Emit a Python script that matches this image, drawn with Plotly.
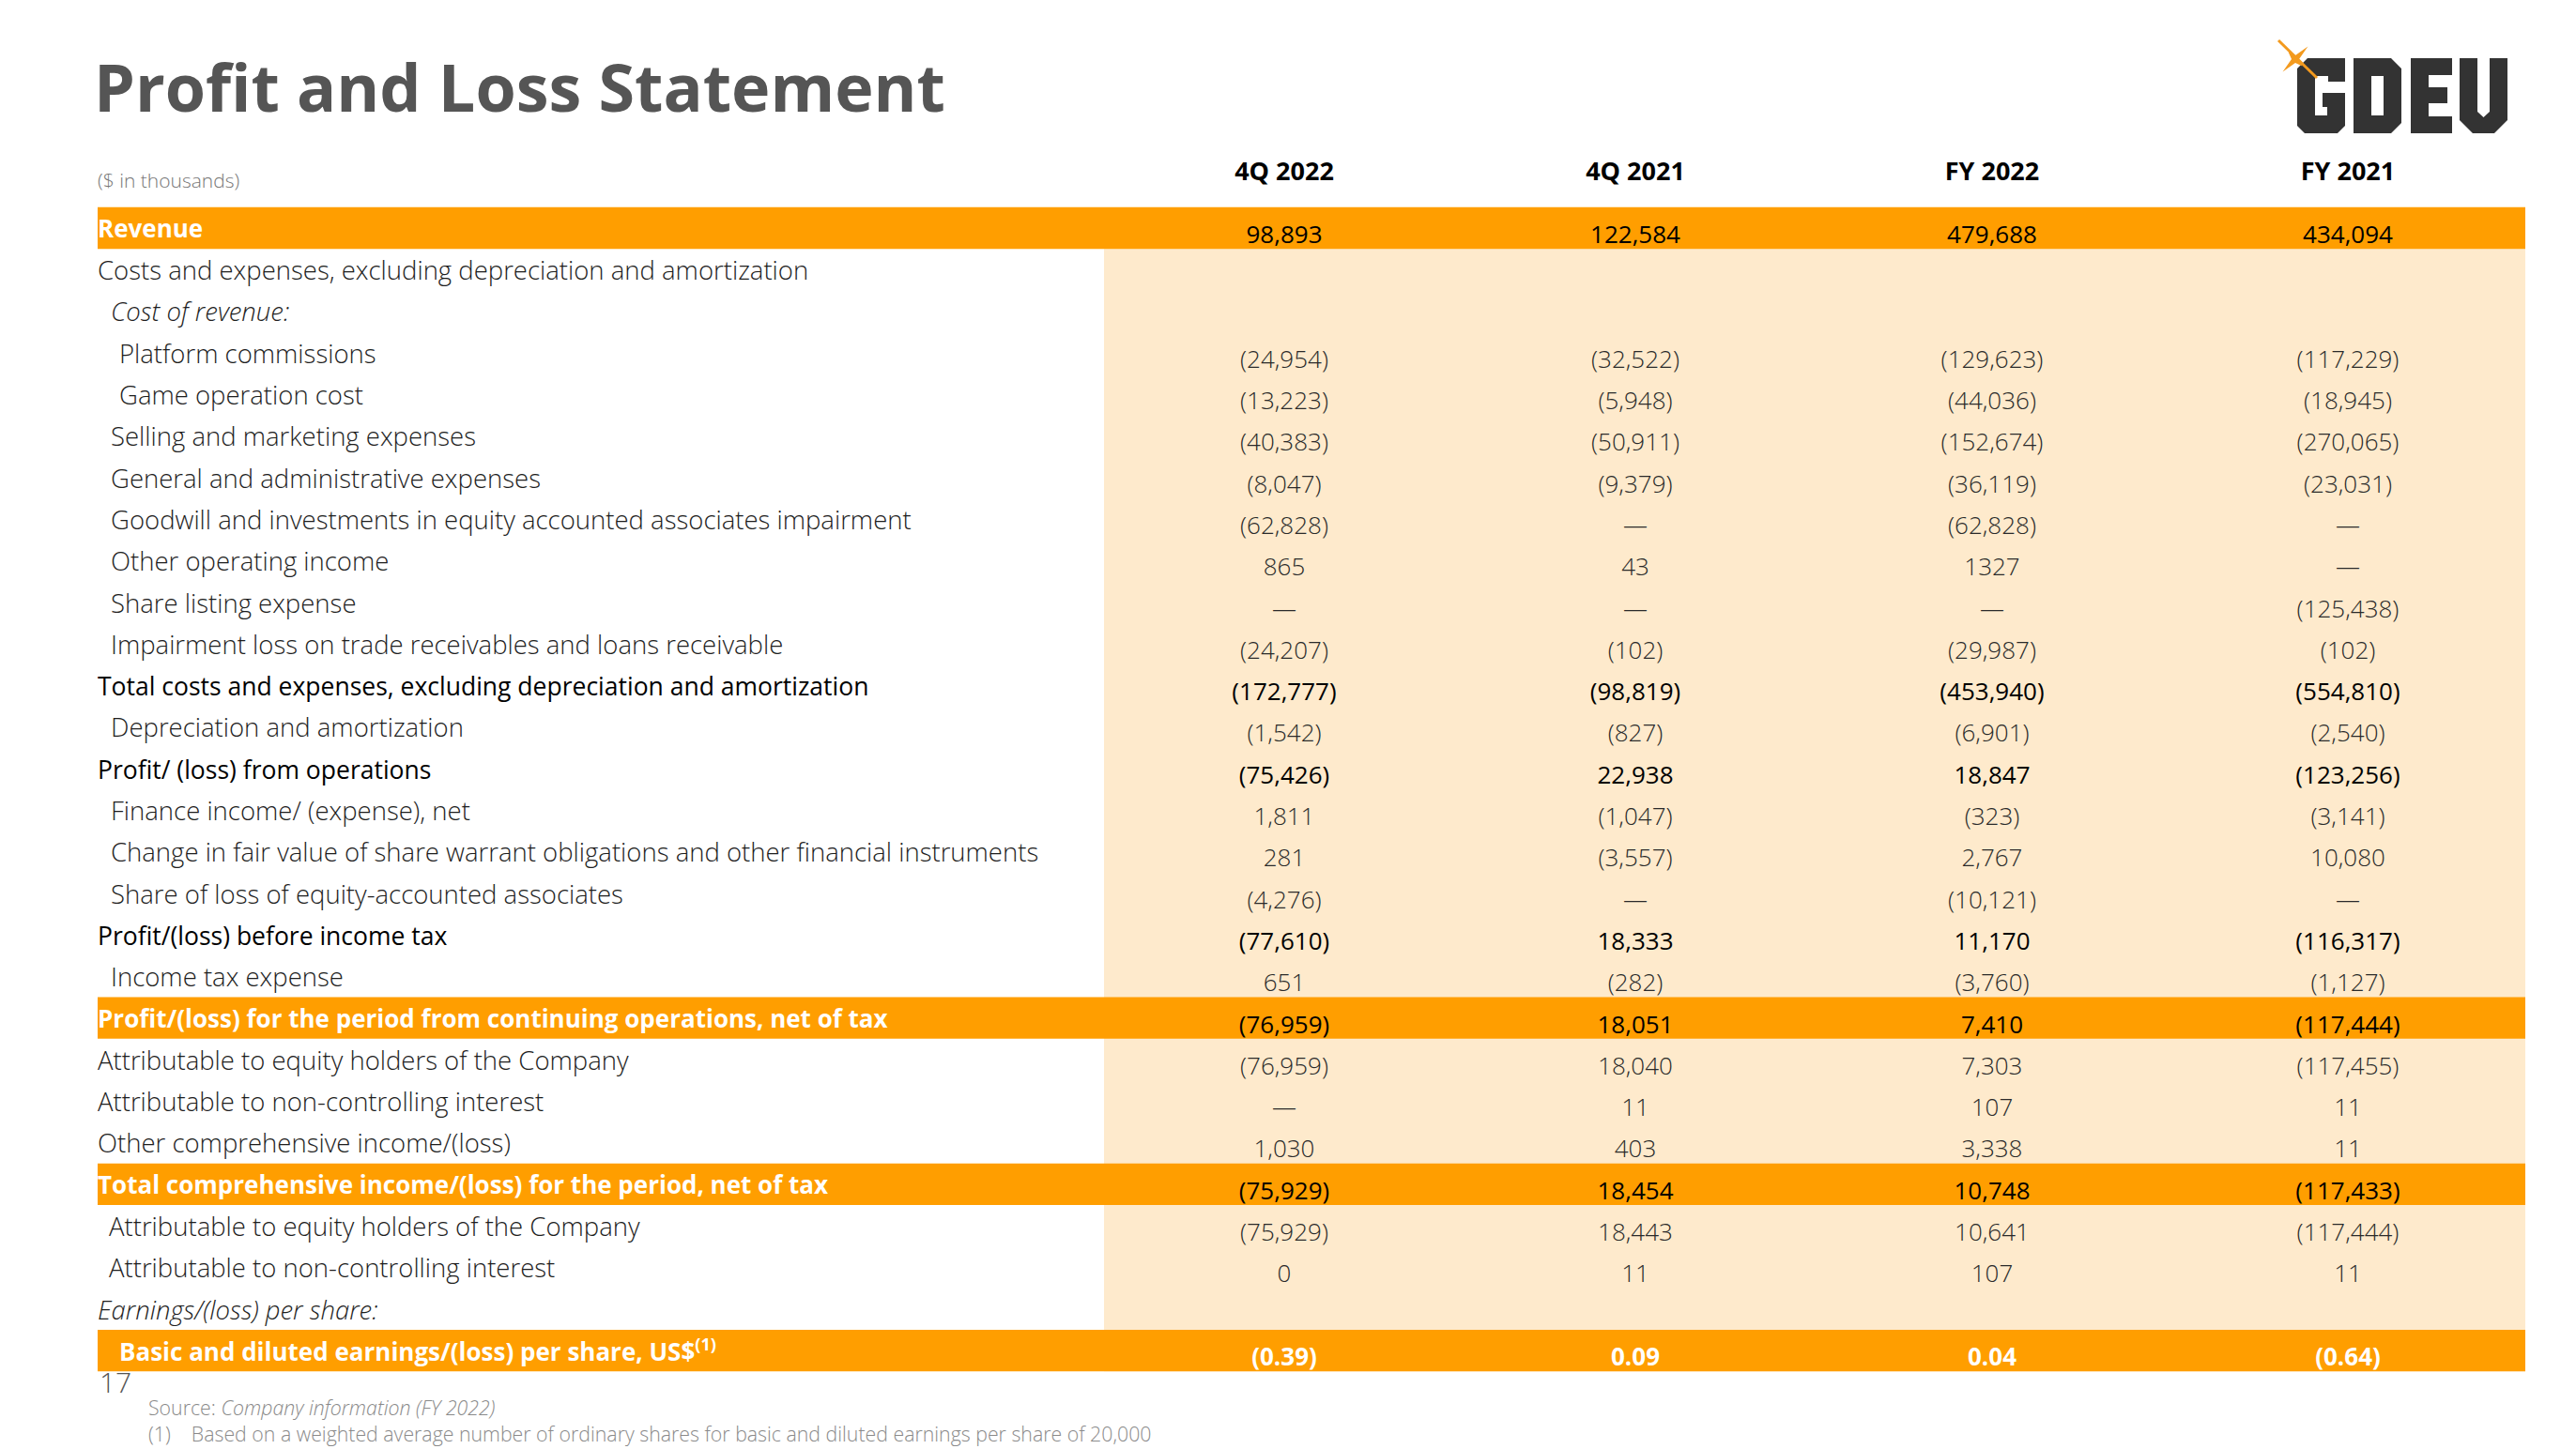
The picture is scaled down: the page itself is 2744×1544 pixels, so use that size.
import plotly.graph_objects as go

W, H = 2744, 1544
FONT = "Open Sans"
ORANGE = "#FF9E00"
PEACH = "#FEEACC"
TXT = "#1E1E1E"

# ---------------- data ----------------
columns = ["4Q 2022", "4Q 2021", "FY 2022", "FY 2021"]

row_labels = [
    "Revenue",
    "Costs and expenses, excluding depreciation and amortization",
    "Cost of revenue:",
    "Platform commissions",
    "Game operation cost",
    "Selling and marketing expenses",
    "General and administrative expenses",
    "Goodwill and investments in equity accounted associates impairment",
    "Other operating income",
    "Share listing expense",
    "Impairment loss on trade receivables and loans receivable",
    "Total costs and expenses, excluding depreciation and amortization",
    "Depreciation and amortization",
    "Profit/ (loss) from operations",
    "Finance income/ (expense), net",
    "Change in fair value of share warrant obligations and other financial instruments",
    "Share of loss of equity-accounted associates",
    "Profit/(loss) before income tax",
    "Income tax expense",
    "Profit/(loss) for the period from continuing operations, net of tax",
    "Attributable to equity holders of the Company",
    "Attributable to non-controlling interest",
    "Other comprehensive income/(loss)",
    "Total comprehensive income/(loss) for the period, net of tax",
    "Attributable to equity holders of the Company",
    "Attributable to non-controlling interest",
    "Earnings/(loss) per share:",
    "Basic and diluted earnings/(loss) per share, US$<sup>(1)</sup>",
]
row_kind = ["band", "normal", "italic", "normal", "normal", "normal", "normal", "normal",
            "normal", "normal", "normal", "total", "normal", "total", "normal", "normal",
            "normal", "total", "normal", "band", "normal", "normal", "normal", "band",
            "normal", "normal", "italic", "eps"]
row_indent = [0, 0, 1, 2, 2, 1, 1, 1, 1, 1, 1, 0, 1, 0, 1, 1, 1, 0, 1, 0, 0, 0, 0, 0, 3, 3, 0, 2]

q4_2022 = ["98,893", "", "", "(24,954)", "(13,223)", "(40,383)", "(8,047)", "(62,828)", "865", "—",
           "(24,207)", "(172,777)", "(1,542)", "(75,426)", "1,811", "281", "(4,276)", "(77,610)", "651",
           "(76,959)", "(76,959)", "—", "1,030", "(75,929)", "(75,929)", "0", "", "(0.39)"]
q4_2021 = ["122,584", "", "", "(32,522)", "(5,948)", "(50,911)", "(9,379)", "—", "43", "—",
           "(102)", "(98,819)", "(827)", "22,938", "(1,047)", "(3,557)", "—", "18,333", "(282)",
           "18,051", "18,040", "11", "403", "18,454", "18,443", "11", "", "0.09"]
fy_2022 = ["479,688", "", "", "(129,623)", "(44,036)", "(152,674)", "(36,119)", "(62,828)", "1327", "—",
           "(29,987)", "(453,940)", "(6,901)", "18,847", "(323)", "2,767", "(10,121)", "11,170", "(3,760)",
           "7,410", "7,303", "107", "3,338", "10,748", "10,641", "107", "", "0.04"]
fy_2021 = ["434,094", "", "", "(117,229)", "(18,945)", "(270,065)", "(23,031)", "—", "—", "(125,438)",
           "(102)", "(554,810)", "(2,540)", "(123,256)", "(3,141)", "10,080", "—", "(116,317)", "(1,127)",
           "(117,444)", "(117,455)", "11", "11", "(117,433)", "(117,444)", "11", "", "(0.64)"]
col_values = [q4_2022, q4_2021, fy_2022, fy_2021]

source_text = "Source: <i>Company information (FY 2022)</i>"
footnote_mark = "(1)"
footnote_text = "Based on a weighted average number of ordinary shares for basic and diluted earnings per share of 20,000"

# ---------------- layout geometry ----------------
ROW0_PX, ROW_PX = 243.0, 44.3          # pixel centre of first row, row pitch
COL_X = [1368, 1742, 2122, 2501]       # column centres (px)
INDENT_X = [104, 118, 127, 116]        # label start per indent level (px)
TABLE_L, TABLE_R, PEACH_L = 104, 2690, 1176
LABEL_SHIFT = 0.09
VAL_SHIFT = 0.21

def py(y):  # pixel y -> paper
    return 1 - y / H

def px(x):
    return x / W

fig = go.Figure()

n = len(row_labels)
rows = list(range(n))

# background shapes
shapes = [dict(type="rect", xref="x", yref="y", x0=PEACH_L, x1=TABLE_R, y0=0.5, y1=n - 0.5,
               fillcolor=PEACH, line_width=0, layer="below")]
for i, k in enumerate(row_kind):
    if k in ("band", "eps"):
        shapes.append(dict(type="rect", xref="x", yref="y", x0=TABLE_L, x1=TABLE_R,
                           y0=i - 0.5, y1=i + 0.5, fillcolor=ORANGE, line_width=0, layer="below"))

# ---- label traces grouped by style
label_styles = {
    "normal": dict(color=TXT, weight=300, style="normal", size=27.5),
    "italic": dict(color=TXT, weight=300, style="italic", size=27.5),
    "total": dict(color="#000000", weight=500, style="normal", size=26.5),
    "band": dict(color="#FFFFFF", weight=700, style="normal", size=26),
    "eps": dict(color="#FFFFFF", weight=700, style="normal", size=26),
}
for kind, st in label_styles.items():
    idx = [i for i in rows if row_kind[i] == kind]
    fig.add_trace(go.Scatter(
        x=[INDENT_X[row_indent[i]] for i in idx], y=[i + LABEL_SHIFT for i in idx],
        text=[row_labels[i] for i in idx], mode="text", textposition="middle right",
        textfont=dict(family=FONT, **st), hoverinfo="skip", showlegend=False))

# ---- value traces
value_styles = {
    "normal": dict(color="#2A2A2A", weight=300, size=26),
    "total": dict(color="#000000", weight=500, size=26),
    "band": dict(color="#000000", weight=500, size=26),
    "eps": dict(color="#FFFFFF", weight=700, size=26),
}
for kind, st in value_styles.items():
    xs, ys, ts = [], [], []
    for c, vals in enumerate(col_values):
        for i in rows:
            if row_kind[i] == kind and vals[i]:
                xs.append(COL_X[c]); ys.append(i + VAL_SHIFT); ts.append(vals[i])
    fig.add_trace(go.Scatter(x=xs, y=ys, text=ts, mode="text", textposition="middle center",
                             textfont=dict(family=FONT, **st), hoverinfo="skip", showlegend=False))

# ---- column headers
HEAD_ROW = (185 - ROW0_PX) / ROW_PX
fig.add_trace(go.Scatter(x=COL_X, y=[HEAD_ROW] * 4, text=columns, mode="text",
                         textposition="middle center",
                         textfont=dict(family=FONT, size=27, weight=700, color="#000000"),
                         hoverinfo="skip", showlegend=False))

# ---- annotations
def ann(text, x, y, size, color, weight=300, style="normal", xanchor="left"):
    return dict(text=text, x=px(x), y=py(y), xref="paper", yref="paper", showarrow=False,
                xanchor=xanchor, yanchor="middle", align="left",
                font=dict(family=FONT, size=size, color=color, weight=weight, style=style))

NB = "\u00a0"
annotations = [
    ann("Profit and Loss Statement", 98, 92, 70, "#555555", weight=700),
    ann("($ in thousands)", 102, 192, 21, "#777777"),
    ann("17", 104, 1472, 30, "#555555"),
    ann(source_text + "<br>" + footnote_mark + NB * 4 + footnote_text, 156, 1513, 21.3, "#8A8A8A"),
]

# ---- GDEV logo (vector)
def path(polys, ox, oy):
    s = ""
    for pts in polys:
        s += "M" + " L".join(f"{px(ox + x):.6f},{py(oy + y):.6f}" for x, y in pts) + " Z "
    return s

LOGO_Y = 62
G = [[(11, 0), (51, 0), (51, 25), (33, 25), (33, 19), (19, 19), (19, 61), (32, 61), (32, 52),
      (27, 52), (27, 37), (51, 37), (51, 72), (43, 80), (8, 80), (0, 72), (0, 11)]]
D = [[(0, 0), (40, 0), (51, 11), (51, 69), (40, 80), (0, 80)],
     [(19, 19), (19, 61), (32, 61), (32, 19)]]
E = [[(0, 0), (44, 0), (44, 18), (19, 18), (19, 31), (39, 31), (39, 48), (19, 48), (19, 62),
      (44, 62), (44, 80), (0, 80)]]
V = [[(0, 0), (19, 0), (19, 57), (25.5, 63), (32, 57), (32, 0), (51, 0), (51, 66), (37, 80),
      (14, 80), (0, 66)]]
for shape_pts, ox in [(G, 2447), (D, 2507), (E, 2568), (V, 2620)]:
    shapes.append(dict(type="path", xref="paper", yref="paper", path=path(shape_pts, ox, LOGO_Y),
                       fillcolor="#333333", line_width=0))

# star
cx, cy = 2445, 63
shapes.append(dict(type="line", xref="paper", yref="paper", x0=px(2427), y0=py(43), x1=px(2468), y1=py(83),
                   line=dict(color="#F39A1E", width=3)))
R, r = 19, 4
star = [(cx + R * 0.7071, cy - R * 0.7071), (cx + r, cy), (cx + R * 0.7071 * 0.55, cy + R * 0.7071 * 0.55),
        (cx, cy + r), (cx - R * 0.7071, cy + R * 0.7071), (cx - r, cy),
        (cx - R * 0.7071 * 0.55, cy - R * 0.7071 * 0.55), (cx, cy - r)]
shapes.append(dict(type="path", xref="paper", yref="paper", path=path([star], 0, 0),
                   fillcolor="#F39A1E", line_width=0))

y_top = -ROW0_PX / ROW_PX
y_bot = (H - ROW0_PX) / ROW_PX
fig.update_layout(
    width=W, height=H, margin=dict(l=0, r=0, t=0, b=0),
    paper_bgcolor="white", plot_bgcolor="white",
    xaxis=dict(range=[0, W], visible=False, fixedrange=True),
    yaxis=dict(range=[y_bot, y_top], visible=False, fixedrange=True),
    shapes=shapes, annotations=annotations, font=dict(family=FONT),
)
fig.write_html("out.html", config={"displayModeBar": False},
               post_script="document.body.style.margin='0';")
